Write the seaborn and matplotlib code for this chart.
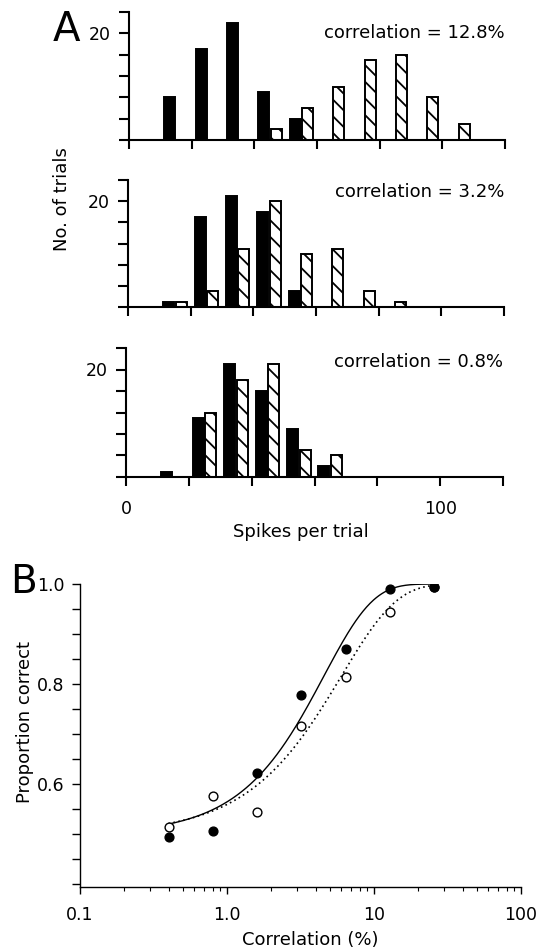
import numpy as np
import pandas as pd
import matplotlib
matplotlib.use("Agg")
import matplotlib.pyplot as plt
import seaborn as sns

# ---------------- data: panel A (spike-count histograms) ----------------
bin_centers = [15, 25, 35, 45, 55, 65, 75, 85, 95, 105]
top_filled = [8, 17, 22, 9, 4, 0, 0, 0, 0, 0]
top_hatched = [0, 0, 0, 2, 6, 10, 15, 16, 8, 3]
mid_filled = [1, 17, 21, 18, 3, 0, 0, 0, 0, 0]
mid_hatched = [1, 3, 11, 20, 10, 11, 3, 1, 0, 0]
bot_filled = [1, 11, 21, 16, 9, 2, 0, 0, 0, 0]
bot_hatched = [0, 12, 18, 21, 5, 4, 0, 0, 0, 0]
panel_texts = ["correlation = 12.8%", "correlation = 3.2%", "correlation = 0.8%"]
a_xticks = [0, 20, 40, 60, 80, 100, 120]
a_xticklabels = ["0", "", "", "", "", "100", ""]
a_yticks = [0, 4, 8, 12, 16, 20, 24]
a_yticklabels = ["", "", "", "", "", "20", ""]

# ---------------- data: panel B (psychometric) ----------------
corr_pct = [0.4, 0.8, 1.6, 3.2, 6.4, 12.8, 25.6]
prop_filled = [0.495, 0.507, 0.622, 0.778, 0.870, 0.990, 0.995]
prop_open = [0.515, 0.576, 0.545, 0.716, 0.814, 0.944, 0.995]
fit_filled = {"alpha": 4.56, "beta": 1.30}   # Weibull fit parameters
fit_open = {"alpha": 6.0, "beta": 1.15}
b_xticks = [0.1, 1, 10, 100]
b_xticklabels = ["0.1", "1.0", "10", "100"]
b_yticklabels_at = [0.6, 0.8, 1.0]

# ---------------- style ----------------
sns.set_style("ticks")
plt.rcParams["font.family"] = ["DejaVu Sans"]
plt.rcParams["hatch.linewidth"] = 1.3
plt.rcParams["hatch.color"] = "black"
for k in ["text.color", "axes.labelcolor", "xtick.color", "ytick.color", "axes.edgecolor"]:
    plt.rcParams[k] = "black"

W, H = 537, 949
fig = plt.figure(figsize=(W / 100, H / 100), dpi=100)


def add_ax(x0, x1, y0, y1):
    return fig.add_axes([x0 / W, 1 - y1 / H, (x1 - x0) / W, (y1 - y0) / H])


panels = [
    (top_filled, top_hatched, panel_texts[0], (129, 505, 12, 140), 20.0),
    (mid_filled, mid_hatched, panel_texts[1], (128, 504, 180, 307), 21.7),
    (bot_filled, bot_hatched, panel_texts[2], (126, 503, 348, 477), 21.4),
]

for i, (filled, hatched, txt, box, ty) in enumerate(panels):
    ax = add_ax(*box)
    df = pd.DataFrame({
        "bin": bin_centers * 2,
        "count": filled + hatched,
        "group": ["filled"] * len(bin_centers) + ["hatched"] * len(bin_centers),
    })
    sns.barplot(data=df, x="bin", y="count", hue="group",
                hue_order=["filled", "hatched"],
                palette={"filled": "black", "hatched": "white"},
                native_scale=True, dodge=True, width=0.8, gap=0.125,
                saturation=1, errorbar=None, legend=False,
                edgecolor="black", linewidth=1.4, ax=ax)
    for p in ax.containers[1]:
        p.set_hatch("\\\\")
        p.set_edgecolor("black")
    ax.set_xlim(0, 120)
    ax.set_ylim(0, 24)
    ax.set_xticks(a_xticks)
    ax.set_yticks(a_yticks)
    ax.set_yticklabels(a_yticklabels)
    if i == 2:
        ax.set_xticklabels(a_xticklabels)
    else:
        ax.set_xticklabels([""] * len(a_xticks))
    ax.set_xlabel("")
    ax.set_ylabel("")
    for s in ["top", "right"]:
        ax.spines[s].set_visible(False)
    for s in ["left", "bottom"]:
        ax.spines[s].set_linewidth(1.5)
        ax.spines[s].set_color("black")
    ax.tick_params(axis="y", direction="out", length=7, width=1.5,
                   labelsize=12.5, pad=6, colors="black")
    ax.tick_params(axis="x", direction="out", length=6.5, width=1.5,
                   labelsize=12.5, pad=10, colors="black")
    ax.text(120, ty, txt, ha="right", va="center", fontsize=13, color="black")
    ax.set_facecolor("white")

fig.text(66 / W, 1 - 30 / H, "A", fontsize=29, ha="center", va="center", color="black")
fig.text(62 / W, 1 - 199 / H, "No. of trials", rotation=90,
         fontsize=13, ha="center", va="center", color="black")
fig.text(301 / W, 1 - 532 / H, "Spikes per trial", fontsize=13,
         ha="center", va="center", color="black")

# ---------------- panel B ----------------
axb = add_ax(80, 521, 584, 887)
cgrid = np.geomspace(min(corr_pct), max(corr_pct), 300)


def weibull(c, alpha, beta):
    return 1 - 0.5 * np.exp(-(c / alpha) ** beta)


sns.lineplot(x=cgrid, y=weibull(cgrid, **fit_open), ax=axb, color="black",
             linewidth=1.2, linestyle=(0, (1, 2)))
sns.lineplot(x=cgrid, y=weibull(cgrid, **fit_filled), ax=axb, color="black",
             linewidth=1.0)
sns.scatterplot(x=corr_pct, y=prop_open, ax=axb, facecolor="white",
                edgecolor="black", linewidth=1.0, s=40, zorder=3)
sns.scatterplot(x=corr_pct, y=prop_filled, ax=axb, color="black",
                edgecolor="black", linewidth=1.0, s=40, zorder=4)
axb.set_xscale("log")
axb.set_xlim(0.1, 100)
axb.set_ylim(0.395, 1.0)
axb.set_xticks(b_xticks)
axb.set_xticklabels(b_xticklabels)
yt = np.round(np.arange(0.40, 1.0001, 0.05), 2)
axb.set_yticks(yt)
axb.set_yticklabels([f"{v:.1f}" if any(abs(v - w) < 1e-6 for w in b_yticklabels_at) else "" for v in yt])
for s in ["top", "right"]:
    axb.spines[s].set_visible(False)
for s in ["left", "bottom"]:
    axb.spines[s].set_linewidth(1.0)
    axb.spines[s].set_color("black")
axb.tick_params(axis="y", direction="out", length=6, width=1.0,
                labelsize=12.5, pad=5, colors="black")
axb.tick_params(axis="x", which="major", direction="out", length=5, width=1.0,
                labelsize=12.5, pad=9, colors="black")
axb.tick_params(axis="x", which="minor", direction="out", length=3, width=0.8,
                colors="black")
axb.set_xlabel("")
axb.set_ylabel("")

fig.text(23 / W, 1 - 582 / H, "B", fontsize=28, ha="center", va="center", color="black")
fig.text(25 / W, 1 - 722 / H, "Proportion correct", rotation=90,
         fontsize=13, ha="center", va="center", color="black")
fig.text(310 / W, 1 - 940 / H, "Correlation (%)", fontsize=13,
         ha="center", va="center", color="black")

fig.savefig("out.png", dpi=100, facecolor="white")
